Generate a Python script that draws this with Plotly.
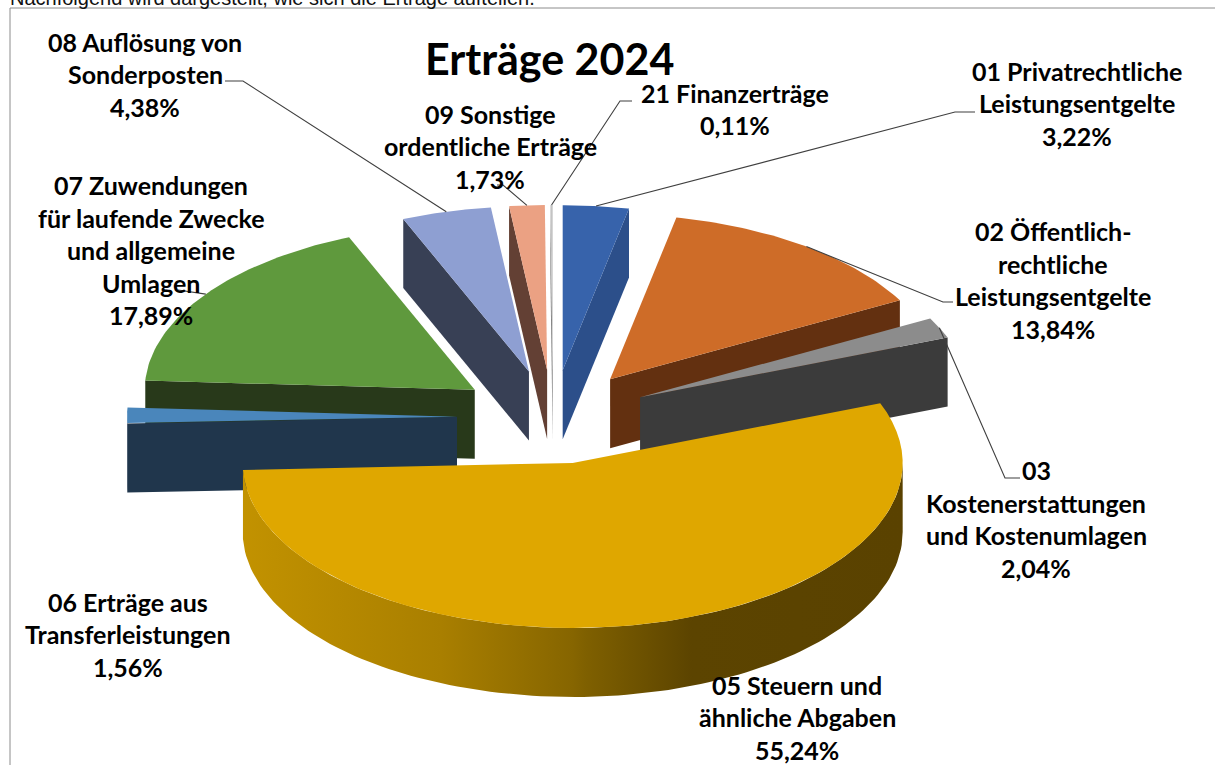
"""Erträge 2024 - exploded 3D pie, drawn as projected polygons on a pixel axis."""

import numpy as np
import plotly.graph_objects as go

# data, clockwise from 12 o'clock
codes = ["01", "02", "03", "05", "06", "07", "08", "09", "21"]
names = [
    ["01 Privatrechtliche", "Leistungsentgelte"],
    ["02 Öffentlich-", "rechtliche", "Leistungsentgelte"],
    ["03", "Kostenerstattungen", "und Kostenumlagen"],
    ["05 Steuern und", "ähnliche Abgaben"],
    ["06 Erträge aus", "Transferleistungen"],
    ["07 Zuwendungen", "für laufende Zwecke", "und allgemeine", "Umlagen"],
    ["08 Auflösung von", "Sonderposten"],
    ["09 Sonstige", "ordentliche Erträge"],
    ["21 Finanzerträge"],
]
shares = [3.22, 13.84, 2.04, 55.24, 1.56, 17.89, 4.38, 1.73, 0.11]

# colours per slice: top face, side wall
_TOP = {"01": "#3763AB", "02": "#CE6C28", "03": "#8C8C8C", "05": "#DFA700", "06": "#4A86BB",
        "07": "#5F993D", "08": "#8E9FD2", "09": "#EBA183", "21": "#C4C4C4"}
_WALL = {"01": "#2C4F8A", "02": "#633010", "03": "#3B3B3B", "05": "#8A6800", "06": "#20364C",
         "07": "#28391A", "08": "#384055", "09": "#634034", "21": "#808080"}

# projection, in pixels of the 1215x765 page
_CX, _CY = 553, 417
_R = 330
_SQUASH = 0.5
_EXPLODE_X, _EXPLODE_Y = 96, 47
_DEPTH = 69

# label placement: centre x, centre y of the text block
_LABEL_POS = {"01": (1077, 103), "02": (1053, 280), "03": (1036, 519), "05": (797, 717), "06": (128, 634),
              "07": (151, 250), "08": (145, 74), "09": (490, 146), "21": (735, 109)}
# leader line, from the label to the middle of the slice's rim
_ELBOWS = {"01": [(975, 112), (955, 112)], "02": [(953, 302), (943, 302)], "03": [(1020, 478), (1005, 478)],
           "07": [(178, 290)], "08": [(225, 81), (243, 81)], "09": [(497, 185), (503, 185)],
           "21": [(632, 101), (620, 101)]}
_LINE_H = 32.5
_FONT = "Lato"


def rim(apex, a0, a1, n=60):
    """Points on the projected outer edge between two angles (degrees, clockwise from top)."""
    t = np.radians(np.linspace(a0, a1, n))
    return apex[0] + _R * np.sin(t), apex[1] - _R * _SQUASH * np.cos(t)


def polygon(fig, xs, ys, color, **kw):
    fig.add_trace(go.Scatter(
        x=list(xs) + [xs[0]], y=list(ys) + [ys[0]],
        mode="lines", fill="toself", fillcolor=color,
        line=dict(width=0), hoverinfo="skip", showlegend=False, **kw,
    ))


def radial_wall(fig, apex, angle, color):
    x, y = rim(apex, angle, angle, n=1)
    xs = [apex[0], x[0], x[0], apex[0]]
    ys = [apex[1], y[0], y[0] + _DEPTH, apex[1] + _DEPTH]
    polygon(fig, xs, ys, color)


fig = go.Figure()

total = sum(shares)
edges = np.concatenate([[0], np.cumsum(shares)]) / total * 360
slices = []
for i, code in enumerate(codes):
    a0, a1 = edges[i], edges[i + 1]
    mid = np.radians((a0 + a1) / 2)
    apex = (_CX + _EXPLODE_X * np.sin(mid), _CY - _EXPLODE_Y * np.cos(mid))
    slices.append((code, a0, a1, mid, apex))

# painter's order: far slices first
rim_mid = {}
for code, a0, a1, mid, apex in sorted(slices, key=lambda s: -np.cos(s[3])):
    if np.sin(np.radians(a0)) < -1e-6:
        radial_wall(fig, apex, a0, _WALL[code])
    if np.sin(np.radians(a1)) > 1e-6:
        radial_wall(fig, apex, a1, _WALL[code])

    # front part of the round wall
    w0, w1 = max(a0, 90), min(a1, 270)
    if w1 > w0:
        x, y = rim(apex, w0, w1, n=120)
        xs = list(x) + list(x[::-1])
        ys = list(y) + list((y + _DEPTH)[::-1])
        if code == "05":
            # angles run right to left here, the shading is set along x
            fig.add_trace(go.Scatter(
                x=xs + [xs[0]], y=ys + [ys[0]], mode="lines", fill="toself",
                fillgradient=dict(type="horizontal", colorscale=[
                    [0, "#C29200"], [0.3, "#A97F00"], [0.5, "#866500"], [0.52, "#7F6000"],
                    [0.68, "#5C4400"], [1, "#5A4200"],
                ]),
                line=dict(width=0), hoverinfo="skip", showlegend=False,
            ))
        else:
            polygon(fig, xs, ys, _WALL[code])

    x, y = rim(apex, a0, a1)
    polygon(fig, [apex[0]] + list(x), [apex[1]] + list(y), _TOP[code])
    mx, my = rim(apex, (a0 + a1) / 2, (a0 + a1) / 2, n=1)
    rim_mid[code] = (mx[0], my[0])

# leader lines
for code, pts in _ELBOWS.items():
    path = pts + [rim_mid[code]]
    fig.add_trace(go.Scatter(
        x=[p[0] for p in path], y=[p[1] for p in path], mode="lines",
        line=dict(color="#3F3F3F", width=1.1), hoverinfo="skip", showlegend=False,
    ))

annotations = []
for code, name, share in zip(codes, names, shares):
    lines = name + [f"{share:.2f}".replace(".", ",") + "%"]
    cx, cy = _LABEL_POS[code]
    for j, line in enumerate(lines):
        annotations.append(dict(
            x=cx, y=cy + (j - (len(lines) - 1) / 2) * _LINE_H, text=line, showarrow=False,
            xanchor="center", yanchor="middle",
            font=dict(family=_FONT, size=25, color="#000000", weight="bold"),
        ))

annotations.append(dict(
    x=549, y=58, text="Erträge 2024", showarrow=False, xanchor="center", yanchor="middle",
    font=dict(family=_FONT, size=43, color="#000000", weight="bold"),
))
annotations.append(dict(
    xref="paper", yref="paper", x=8 / 1215, y=1 + 2 / 765,
    text="Nachfolgend wird dargestellt, wie sich die Erträge aufteilen.", showarrow=False,
    xanchor="left", yanchor="middle",
    font=dict(family="Liberation Sans", size=20, color="#111111"),
))

fig.update_layout(
    width=1215, height=765,
    margin=dict(l=0, r=0, t=0, b=0),
    paper_bgcolor="#FFFFFF", plot_bgcolor="#FFFFFF",
    xaxis=dict(range=[0, 1215], visible=False, fixedrange=True),
    yaxis=dict(range=[765, 0], visible=False, fixedrange=True),
    annotations=annotations,
    shapes=[
        dict(type="line", x0=10, x1=1215, y0=8, y1=8, line=dict(color="#8C8C8C", width=1)),
        dict(type="line", x0=10, x1=10, y0=8, y1=765, line=dict(color="#8C8C8C", width=1)),
    ],
)

fig.write_html("out.html", config={"displayModeBar": False},
               post_script="document.body.style.margin='0';")
